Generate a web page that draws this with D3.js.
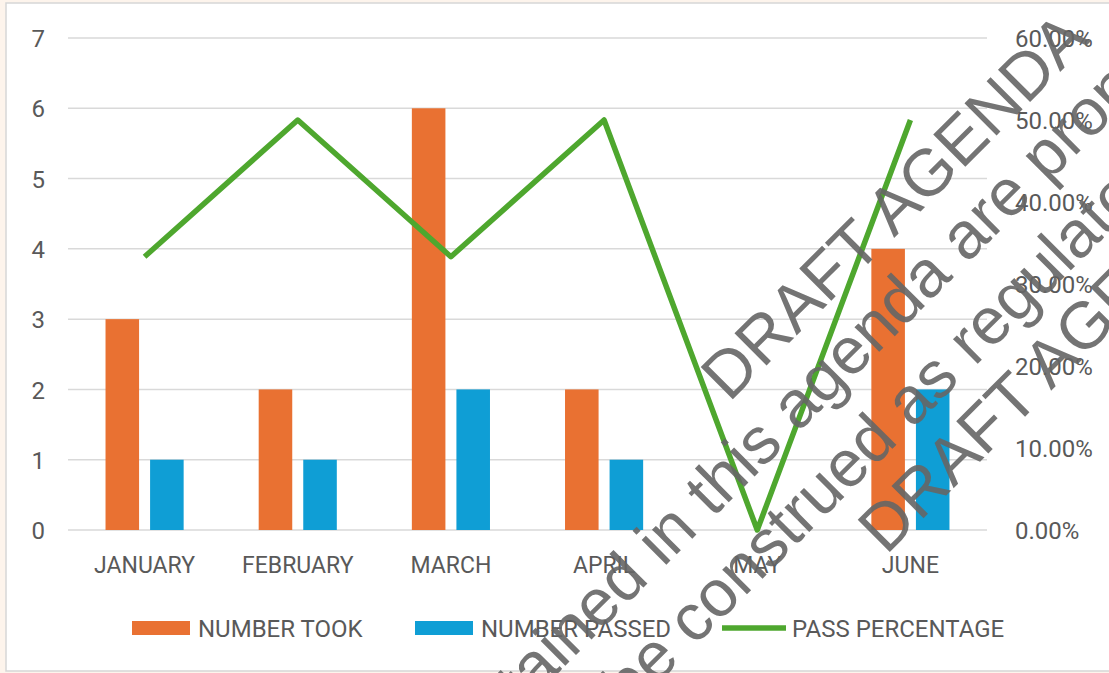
<!DOCTYPE html>
<html>
<head>
<meta charset="utf-8">
<script src="https://cdn.jsdelivr.net/npm/d3@7"></script>
<style>
  html, body { margin: 0; padding: 0; background: #fdf4ec; }
  svg { display: block; }
</style>
</head>
<body>
<svg id="chart"></svg>
<script>
const months = ["JANUARY", "FEBRUARY", "MARCH", "APRIL", "MAY", "JUNE"];
const numberTook = [3, 2, 6, 2, 0, 4];
const numberPassed = [1, 1, 2, 1, 0, 2];
const passPercentage = [0.3333, 0.5, 0.3333, 0.5, 0, 0.5];
const leftTicks = [0, 1, 2, 3, 4, 5, 6, 7];
const rightTicks = [0, 0.1, 0.2, 0.3, 0.4, 0.5, 0.6];
const seriesNames = ["NUMBER TOOK", "NUMBER PASSED", "PASS PERCENTAGE"];

const W = 1109, H = 673;
const font = "Roboto, 'Open Sans', sans-serif";
const textColor = "#595959";
const orange = "#E97132", blue = "#0F9ED5", green = "#4EA72E";

var svg = d3.select("#chart").attr("width", W).attr("height", H);

// chart area background and frame
svg.append("rect")
    .attr("x", 6).attr("y", 3)
    .attr("width", W).attr("height", H - 5)
    .attr("fill", "white")
    .attr("stroke", "#d6d6d6")
    .attr("stroke-width", 1.5)

var x0 = d3.scaleBand().domain(months).range([68, 987]);
var x1 = d3.scaleBand().domain(["took", "passed"])
    .range([0, x0.bandwidth()])
    .paddingInner(0.247)
    .paddingOuter(0.842);
var y = d3.scaleLinear().domain([0, 7]).range([530, 38]);
var yRight = d3.scaleLinear().domain([0, 0.6]).range([530, 38]);

// gridlines
svg.append("g")
    .selectAll("line")
    .data(leftTicks)
    .enter()
    .append("line")
    .attr("x1", 68).attr("x2", 987)
    .attr("y1", d => y(d)).attr("y2", d => y(d))
    .attr("stroke", "#d9d9d9")
    .attr("stroke-width", 1.5)

// left axis
var leftAxis = svg.append("g")
    .attr("transform", "translate(45,0)")
    .call(d3.axisLeft(y).tickValues(leftTicks).tickSize(0).tickPadding(0).tickFormat(d3.format("d")));
leftAxis.select(".domain").remove();
leftAxis.selectAll("text")
    .attr("fill", textColor)
    .style("font-family", font)
    .style("font-size", "24px")
    .attr("dy", "0.36em")

// right axis
var rightAxis = svg.append("g")
    .attr("transform", "translate(1015,0)")
    .call(d3.axisRight(yRight).tickValues(rightTicks).tickSize(0).tickPadding(0).tickFormat(d3.format(".2%")));
rightAxis.select(".domain").remove();
rightAxis.selectAll("text")
    .attr("fill", textColor)
    .style("font-family", font)
    .style("font-size", "24px")
    .attr("dy", "0.36em")

// bottom axis labels
var bottomAxis = svg.append("g")
    .attr("transform", "translate(0,557)")
    .call(d3.axisBottom(x0).tickSize(0).tickPadding(0));
bottomAxis.select(".domain").remove();
bottomAxis.selectAll("text")
    .attr("fill", textColor)
    .style("font-family", font)
    .style("font-size", "23px")
    .attr("dy", "0.71em")

// bars
var groups = svg.append("g")
    .selectAll("g")
    .data(months)
    .enter()
    .append("g")
    .attr("transform", d => `translate(${x0(d)},0)`);

groups.append("rect")
    .attr("x", x1("took"))
    .attr("width", x1.bandwidth())
    .attr("y", (d, i) => y(numberTook[i]))
    .attr("height", (d, i) => y(0) - y(numberTook[i]))
    .attr("fill", orange)

groups.append("rect")
    .attr("x", x1("passed"))
    .attr("width", x1.bandwidth())
    .attr("y", (d, i) => y(numberPassed[i]))
    .attr("height", (d, i) => y(0) - y(numberPassed[i]))
    .attr("fill", blue)

// pass percentage line
var line = d3.line()
    .x((d, i) => x0(months[i]) + x0.bandwidth() / 2)
    .y(d => yRight(d));

svg.append("path")
    .datum(passPercentage)
    .attr("d", line)
    .attr("fill", "none")
    .attr("stroke", green)
    .attr("stroke-width", 5.5)
    .attr("stroke-linejoin", "round")

// legend
var legendItems = [
    { name: seriesNames[0], color: orange, type: "rect", x: 132 },
    { name: seriesNames[1], color: blue, type: "rect", x: 415 },
    { name: seriesNames[2], color: green, type: "line", x: 722 }
];
var legend = svg.append("g")
    .selectAll("g")
    .data(legendItems)
    .enter()
    .append("g")
    .attr("transform", d => `translate(${d.x},628)`);

legend.filter(d => d.type === "rect")
    .append("rect")
    .attr("x", 0).attr("y", -7)
    .attr("width", 58).attr("height", 14)
    .attr("fill", d => d.color)
legend.filter(d => d.type === "line")
    .append("line")
    .attr("x1", 0).attr("x2", 64)
    .attr("y1", 0).attr("y2", 0)
    .attr("stroke", d => d.color)
    .attr("stroke-width", 5.5)
legend.append("text")
    .attr("x", d => d.type === "line" ? 70 : 66)
    .attr("y", 0)
    .attr("dy", "0.36em")
    .attr("fill", textColor)
    .style("font-family", font)
    .style("font-size", "24px")
    .text(d => d.name)

// watermark across the image
var wm = svg.append("g")
    .attr("transform", "translate(729,403) rotate(-45)")
    .attr("fill", "#666666")
    .attr("opacity", 0.9)
    .style("font-family", "'Liberation Sans', Arial, sans-serif")
    .style("font-size", "66px");

var wmPieces = [
    { text: "DRAFT AGENDA", x: 0, y: 0, anchor: "start" },
    { text: "contained", x: -181, y: 70, anchor: "end" },
    { text: "in this agenda are proposed", x: -163, y: 70, anchor: "start" },
    { text: "not be construed", x: 93, y: 148, anchor: "end" },
    { text: "as regulatory", x: 111, y: 148, anchor: "start" },
    { text: "DRAFT AGENDA", x: 3, y: 219, anchor: "start" }
];
wm.selectAll("text")
    .data(wmPieces)
    .enter()
    .append("text")
    .attr("x", d => d.x)
    .attr("y", d => d.y)
    .attr("text-anchor", d => d.anchor)
    .text(d => d.text)
</script>
</body>
</html>
